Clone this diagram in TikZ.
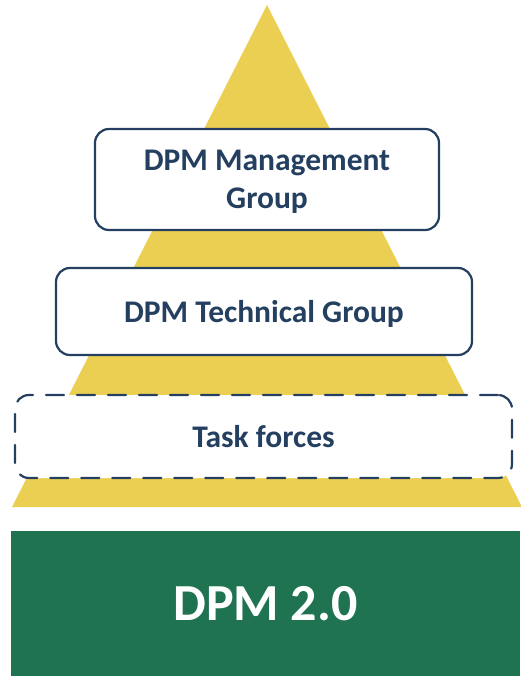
\documentclass[tikz,border=0pt]{standalone}
\usepackage{fontspec}
\setmainfont{Carlito}
\usepackage{tikz}
\definecolor{pyramid}{RGB}{235,207,82}
\definecolor{dpmgreen}{RGB}{31,115,80}
\definecolor{navy}{RGB}{36,63,96}

\begin{document}
\begin{tikzpicture}[line cap=round,line join=round,x=1pt,y=-1pt,
  groupbox/.style={draw=navy,fill=white,line width=2.2pt,rounded corners=14pt,
    text=navy,align=center,inner sep=0pt,text depth=0pt,
    font=\fontsize{31.5}{38}\selectfont\bfseries}]
\useasboundingbox (0,0) rectangle (520,676);
% pyramid
\fill[pyramid] (267,5)--(522,507)--(12,507)--cycle;
%
\node[groupbox,minimum width=344,minimum height=101] (mgmt) at (267,179.5) {DPM Management\\Group};
\node[groupbox,minimum width=416,minimum height=87] (tech) at (264,311.5) {DPM Technical Group};
\node[groupbox,dash pattern=on 18pt off 13pt,minimum width=497,minimum height=83] (task) at (263.5,436.5) {Task forces};
%
\node[fill=dpmgreen,text=white,inner sep=0pt,minimum width=509,minimum height=145,
  font=\fontsize{52}{60}\selectfont\bfseries] (dpm) at (265.5,603.5) {DPM 2.0};
\end{tikzpicture}
\end{document}
